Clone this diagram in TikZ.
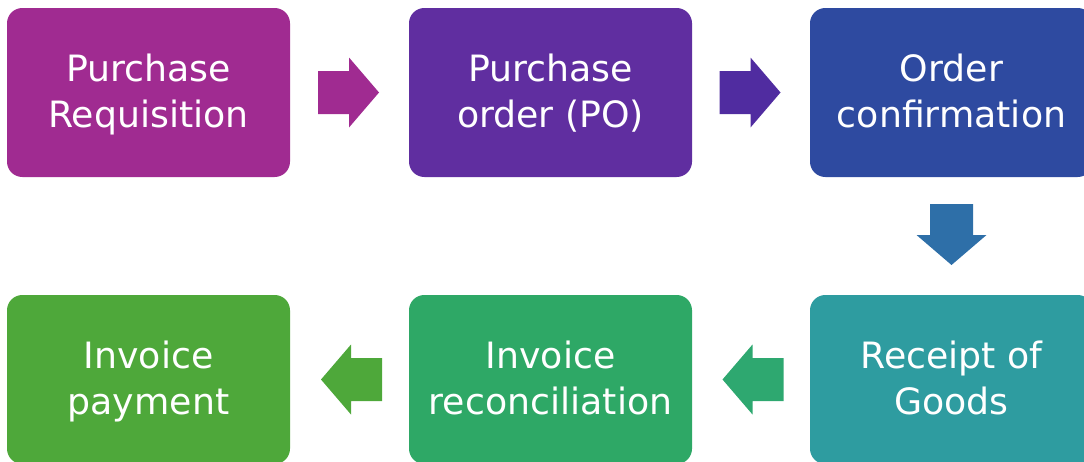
\documentclass[tikz,border=0pt]{standalone}
\usepackage{fontspec}
\setmainfont{DejaVu Sans}
\usetikzlibrary{calc}

\definecolor{cPR}{RGB}{160,43,145}
\definecolor{cPO}{RGB}{96,46,160}
\definecolor{cOC}{RGB}{46,74,160}
\definecolor{cRG}{RGB}{46,156,160}
\definecolor{cIR}{RGB}{46,168,102}
\definecolor{cIP}{RGB}{78,168,58}
\definecolor{aPO}{RGB}{80,44,160}
\definecolor{aRG}{RGB}{46,111,168}
\definecolor{aIR}{RGB}{46,168,112}

\tikzset{
  stagebox/.style={rectangle, rounded corners=11.5pt, draw=none,
    minimum width=212.25pt, minimum height=126.75pt, inner sep=0pt},
  stagetext/.style={text=white, align=center, inner sep=0pt,
    yshift=-3.75pt,
    font=\fontsize{27.2}{33.8}\selectfont,
    execute at begin node=\strut, execute at end node=\strut},
  stage/.style 2 args={stagebox, fill=#1,
    label={[stagetext]center:{#2}}},
  blockarrow/.pic={
    \path[pic actions] (-30.5,-21.5) -- (0.5,-21.5) -- (0.5,-35) -- (30.5,0)
      -- (0.5,35) -- (0.5,21.5) -- (-30.5,21.5) -- cycle;
  }
}

\begin{document}
\begin{tikzpicture}[x=0.75pt,y=-0.75pt]
  \useasboundingbox (0,0) rectangle (1084,461);
  \clip (0,0) rectangle (1084,461);

  % process stages
  \node[stage={cPR}{Purchase\\Requisition}] (pr) at (148.5,92.5) {};
  \node[stage={cPO}{Purchase\\order (PO)}] (po) at (550.5,92.5) {};
  \node[stage={cOC}{Order\\confirmation}] (oc) at (951.5,92.5) {};
  \node[stage={cRG}{Receipt of\\Goods}] (rg) at (951.5,379.5) {};
  \node[stage={cIR}{Invoice\\reconciliation}] (ir) at (550.5,379.5) {};
  \node[stage={cIP}{Invoice\\payment}] (ip) at (148.5,379.5) {};

  % block arrows between stages
  \coordinate (m1) at ($(pr.east)!0.5!(po.west)+(-1,0)$);
  \coordinate (m2) at ($(po.east)!0.5!(oc.west)+(-1,0)$);
  \coordinate (m3) at ($(oc.south)!0.5!(rg.north)+(0,-1.5)$);
  \coordinate (m4) at ($(rg.west)!0.5!(ir.east)+(2,0)$);
  \coordinate (m5) at ($(ir.west)!0.5!(ip.east)+(2,0)$);

  \pic[fill=cPR] at (m1) {blockarrow};
  \pic[fill=aPO] at (m2) {blockarrow};
  \pic[fill=aRG, rotate=-90] at (m3) {blockarrow};
  \pic[fill=aIR, rotate=180] at (m4) {blockarrow};
  \pic[fill=cIP, rotate=180] at (m5) {blockarrow};
\end{tikzpicture}
\end{document}
